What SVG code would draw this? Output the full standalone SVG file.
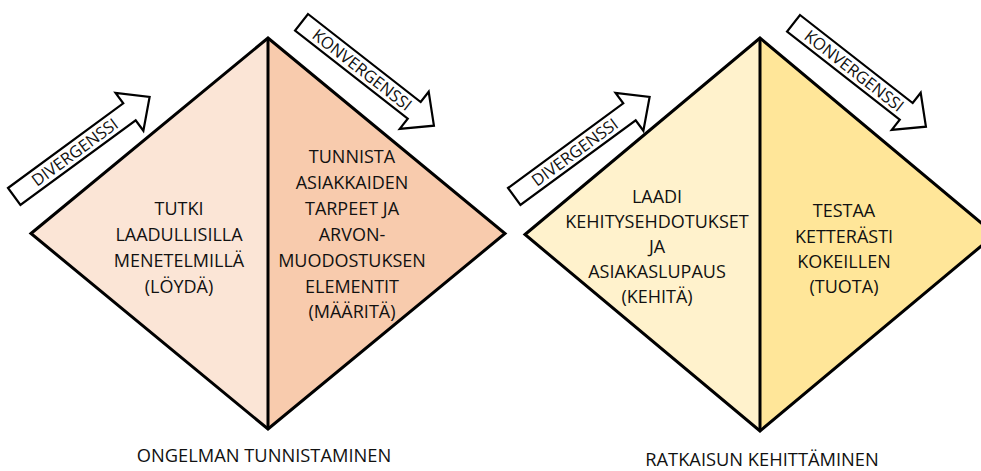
<svg xmlns="http://www.w3.org/2000/svg" width="981" height="471" viewBox="0 0 981 471">
  <style>
    .outline { fill: none; stroke: #000; stroke-width: 3; stroke-linejoin: miter; }
    .divider { stroke: #000; stroke-width: 3; }
    .body { font-family: "Open Sans", "Noto Sans", sans-serif; font-size: 18px; fill: #111; text-anchor: middle; }
    .caption { font-family: "Open Sans", "Noto Sans", sans-serif; font-size: 18.3px; fill: #111; text-anchor: middle; }
    .arrow { fill: #fff; stroke: #000; stroke-width: 2.2; stroke-linejoin: miter; }
    .arrow-label { font-family: "Open Sans", "Noto Sans", sans-serif; font-size: 16.5px; fill: #111; text-anchor: middle; }
  </style>
  <defs>
    <path id="block-arrow" class="arrow" d="M0,0 H143 V-13 L168,10.5 L143,34 V21 H0 Z"/>
  </defs>

  <rect width="981" height="471" fill="#fff"/>

  <!-- Problem definition diamond -->
  <g id="diamond-problem">
    <polygon points="31,233.5 268,38 268,429" fill="#FBE5D6"/>
    <polygon points="268,38 505,233.5 268,429" fill="#F8CBAD"/>
    <polygon class="outline" points="31,233.5 268,38 505,233.5 268,429"/>
    <line class="divider" x1="268" y1="38" x2="268" y2="429"/>
  </g>

  <g id="node-discover">
    <text class="body" x="179" y="215">TUTKI</text>
    <text class="body" x="179" y="241">LAADULLISILLA</text>
    <text class="body" x="179" y="267">MENETELMILLÄ</text>
    <text class="body" x="179" y="293">(LÖYDÄ)</text>
  </g>

  <g id="node-define">
    <text class="body" x="352" y="163">TUNNISTA</text>
    <text class="body" x="352" y="189">ASIAKKAIDEN</text>
    <text class="body" x="352" y="215">TARPEET JA</text>
    <text class="body" x="352" y="241">ARVON-</text>
    <text class="body" x="352" y="267">MUODOSTUKSEN</text>
    <text class="body" x="352" y="293">ELEMENTIT</text>
    <text class="body" x="352" y="318">(MÄÄRITÄ)</text>
  </g>

  <!-- Solution development diamond -->
  <g id="diamond-solution">
    <polygon points="525,234.5 760,38 760,431" fill="#FFF2CC"/>
    <polygon points="760,38 995,234.5 760,431" fill="#FFE699"/>
    <polygon class="outline" points="525,234.5 760,38 995,234.5 760,431"/>
    <line class="divider" x1="760" y1="38" x2="760" y2="431"/>
  </g>

  <g id="node-develop">
    <text class="body" x="657" y="203">LAADI</text>
    <text class="body" x="657" y="228">KEHITYSEHDOTUKSET</text>
    <text class="body" x="657" y="253">JA</text>
    <text class="body" x="657" y="278">ASIAKASLUPAUS</text>
    <text class="body" x="657" y="303">(KEHITÄ)</text>
  </g>

  <g id="node-deliver">
    <text class="body" x="844" y="217">TESTAA</text>
    <text class="body" x="844" y="243">KETTERÄSTI</text>
    <text class="body" x="844" y="268">KOKEILLEN</text>
    <text class="body" x="844" y="293">(TUOTA)</text>
  </g>

  <!-- Phase arrows -->
  <g id="phase-arrows">
    <g transform="translate(8,188) rotate(-36.3)">
      <use href="#block-arrow"/>
      <text class="arrow-label" x="75" y="16.5">DIVERGENSSI</text>
    </g>
    <g transform="translate(308,14) rotate(38)">
      <use href="#block-arrow"/>
      <text class="arrow-label" x="77" y="16.5">KONVERGENSSI</text>
    </g>
    <g transform="translate(508,188) rotate(-36.3)">
      <use href="#block-arrow"/>
      <text class="arrow-label" x="75" y="16.5">DIVERGENSSI</text>
    </g>
    <g transform="translate(800,15) rotate(38)">
      <use href="#block-arrow"/>
      <text class="arrow-label" x="77" y="16.5">KONVERGENSSI</text>
    </g>
  </g>

  <!-- Phase captions -->
  <g id="caption-problem">
    <text class="caption" x="264" y="462">ONGELMAN TUNNISTAMINEN</text>
  </g>
  <g id="caption-solution">
    <text class="caption" x="762" y="466">RATKAISUN KEHITTÄMINEN</text>
  </g>
</svg>
